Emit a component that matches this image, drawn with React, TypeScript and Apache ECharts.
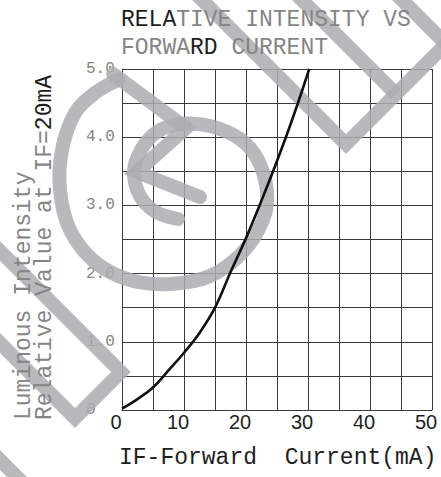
import React, { useEffect, useRef } from "react";
import * as echarts from "echarts";

// ---- data ----
const currentMA = [0, 2.5, 5, 7.5, 10, 12.5, 15, 17.5, 20, 22.5, 25, 27.5, 30.2];
const relIntensity = [0.02, 0.16, 0.33, 0.58, 0.84, 1.13, 1.5, 2.02, 2.52, 3.07, 3.65, 4.27, 5.0];
const xTickLabels = [0, 10, 20, 30, 40, 50];
const yTickLabels = [0, 1, 2, 3, 4, 5];
const titleLines = ["RELATIVE INTENSITY VS", "FORWARD CURRENT"];
const xAxisTitle = "IF-Forward  Current(mA)";
const yAxisTitleLines = ["Luminous Intensity", "Relative Value at IF=20mA"];

// ---- decorative watermark geometry (page pixels) ----
const WM_SPIRAL = [
  [118, 80], [95, 93], [75, 113], [62, 150], [60, 190], [70, 230], [95, 262],
  [130, 280], [170, 284], [210, 276], [243, 252], [263, 220], [267, 192],
  [258, 160], [240, 139], [210, 126], [180, 124], [157, 132], [141, 150],
  [134, 172], [140, 196], [156, 212], [178, 219],
];
const WM_ZIGZAG = [[113, 74], [186, 128], [137, 172], [200, 197]];
const WM_BANDS = [
  [[190, -12], [346, 144], [460, 30]],
  [[292, -10], [396, 94]],
  [[392, -10], [450, 48]],
  [[-10, 241], [121, 372], [75, 418], [-10, 333]],
  [[-10, 450], [30, 490]],
];

const MONO = '"Liberation Mono", "DejaVu Sans Mono", monospace';
const DARK = "#1e1e1e";
const GRAY = "#858585";

export default function App() {
  const ref = useRef<HTMLDivElement>(null);

  useEffect(() => {
    const chart = echarts.init(ref.current!, null, { renderer: "svg" });
    const wmStyle = {
      stroke: "rgba(172,172,178,0.85)",
      lineWidth: 14,
      fill: null,
      lineJoin: "miter",
      lineCap: "butt",
    };
    const graphics: any[] = [];
    graphics.push({
      type: "polyline",
      silent: true,
      z: 1,
      shape: { points: WM_SPIRAL, smooth: 0.35 },
      style: { ...wmStyle, lineCap: "round" },
    });
    graphics.push({
      type: "polyline",
      silent: true,
      z: 1,
      shape: { points: WM_ZIGZAG },
      style: { ...wmStyle, lineCap: "round" },
    });
    WM_BANDS.forEach((pts) =>
      graphics.push({
        type: "polyline",
        silent: true,
        z: 1,
        shape: { points: pts },
        style: { ...wmStyle },
      })
    );

    const t1 = titleLines[0];
    const t2 = titleLines[1];
    const rich = {
      d: { fill: DARK, fontFamily: MONO, fontSize: 23 },
      g: { fill: GRAY, fontFamily: MONO, fontSize: 23 },
    };
    const txtBase = {
      fontFamily: MONO,
      fontSize: 23,
      align: "left",
      textAlign: "left",
      verticalAlign: "middle",
      textVerticalAlign: "middle",
    };
    graphics.push({
      type: "text",
      z: 3,
      x: 121,
      y: 20,
      style: { ...txtBase, text: `{d|${t1.slice(0, 4)}}{g|${t1.slice(4)}}`, rich, fill: GRAY },
    });
    graphics.push({
      type: "text",
      z: 3,
      x: 121,
      y: 48,
      style: {
        ...txtBase,
        text: `{g|${t2.slice(0, 5)}}{d|${t2.slice(5, 7)}}{g|${t2.slice(7)}}`,
        rich,
        fill: GRAY,
      },
    });
    // x axis title
    graphics.push({
      type: "text",
      z: 3,
      x: 119,
      y: 458,
      style: { ...txtBase, text: xAxisTitle, fill: DARK },
    });
    // y axis title (two rotated lines)
    const y2 = yAxisTitleLines[1];
    graphics.push({
      type: "text",
      z: 3,
      x: 24,
      y: 420,
      rotation: Math.PI / 2,
      style: { ...txtBase, text: yAxisTitleLines[0], fill: GRAY },
    });
    graphics.push({
      type: "text",
      z: 3,
      x: 45,
      y: 420,
      rotation: Math.PI / 2,
      style: {
        ...txtBase,
        text: `{g|${y2.slice(0, y2.length - 4)}}{d|${y2.slice(y2.length - 4)}}`,
        rich,
        fill: GRAY,
      },
    });

    const gridLine = { show: true, lineStyle: { color: "#3a3a3a", width: 1 } };

    chart.setOption({
      animation: false,
      backgroundColor: "#ffffff",
      grid: { left: 122, right: 9, top: 69, bottom: 67, containLabel: false },
      xAxis: {
        type: "value",
        min: 0,
        max: 50,
        interval: 5,
        axisLine: { show: true, lineStyle: { color: "#3a3a3a", width: 1 } },
        axisTick: { show: false },
        splitLine: gridLine,
        axisLabel: {
          margin: 2,
          fontFamily: '"Liberation Sans", Arial, sans-serif',
          fontSize: 20,
          color: DARK,
          padding: [0, 12, 0, 0],
          formatter: (v: number) => (xTickLabels.includes(v) ? String(v) : ""),
        },
      },
      yAxis: {
        type: "value",
        min: 0,
        max: 5,
        interval: 0.5,
        axisLine: { show: true, lineStyle: { color: "#3a3a3a", width: 1 } },
        axisTick: { show: false },
        splitLine: gridLine,
        axisLabel: {
          margin: 36,
          align: "left",
          fontFamily: MONO,
          fontSize: 16,
          color: GRAY,
          formatter: (v: number) =>
            yTickLabels.includes(v) ? (v === 0 ? "0" : v.toFixed(1)) : "",
        },
      },
      graphic: graphics,
      series: [
        {
          type: "line",
          z: 4,
          data: currentMA.map((x, i) => [x, relIntensity[i]]),
          smooth: 0.4,
          showSymbol: false,
          symbol: "none",
          clip: true,
          lineStyle: { color: "#111111", width: 2.6 },
        },
      ],
    });
    return () => chart.dispose();
  }, []);

  return (
    <div
      ref={ref}
      style={{ position: "absolute", left: 0, top: 0, width: 441, height: 477, background: "#fff" }}
    />
  );
}
